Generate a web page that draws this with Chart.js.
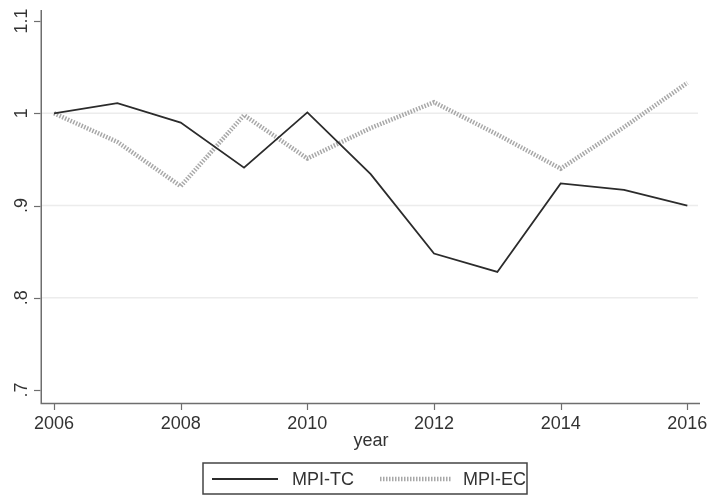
<!DOCTYPE html>
<html>
<head>
<meta charset="utf-8">
<script src="https://cdn.jsdelivr.net/npm/chart.js@4/dist/chart.umd.min.js"></script>
<style>
  html, body { margin: 0; padding: 0; background: #fff; }
  #wrap { width: 707px; height: 495px; }
</style>
</head>
<body>
<div id="wrap"><canvas id="c" width="707" height="495"></canvas></div>
<script>
// Yearly Malmquist productivity components
const years = [2006, 2007, 2008, 2009, 2010, 2011, 2012, 2013, 2014, 2015, 2016];
const mpiTC = [1.000, 1.011, 0.990, 0.941, 1.001, 0.934, 0.848, 0.828, 0.924, 0.917, 0.900];
const mpiEC = [1.000, 0.969, 0.921, 0.998, 0.951, 0.984, 1.012, 0.977, 0.940, 0.985, 1.033];

const yTickValues = [0.7, 0.8, 0.9, 1.0, 1.1];
const yTickLabels = ['.7', '.8', '.9', '1', '1.1'];
const yGridValues = [0.8, 0.9, 1.0];
const xTickValues = [2006, 2008, 2010, 2012, 2014, 2016];
const xTitle = 'year';
const seriesNames = ['MPI-TC', 'MPI-EC'];

const FONT = '"Liberation Sans", Arial, sans-serif';
const TEXT = '#333';
const AXIS = '#6e6e6e';

const toPoints = (vals) => vals.map((v, i) => ({ x: years[i], y: v }));

// White page background and grid lines under the series
const gridUnder = {
  id: 'gridUnder',
  beforeDraw(chart) {
    const ctx = chart.ctx;
    ctx.save();
    ctx.fillStyle = '#fff';
    ctx.fillRect(0, 0, chart.width, chart.height);
    ctx.restore();
  },
  beforeDatasetsDraw(chart) {
    const ctx = chart.ctx;
    const y = chart.scales.y;
    const area = chart.chartArea;
    ctx.save();
    ctx.strokeStyle = '#ececec';
    ctx.lineWidth = 1.5;
    yGridValues.forEach((v) => {
      const py = y.getPixelForValue(v);
      ctx.beginPath();
      ctx.moveTo(area.left, py);
      ctx.lineTo(area.right - 2, py);
      ctx.stroke();
    });
    ctx.restore();
  }
};

// Axes, tick labels, axis title and the boxed legend
const extras = {
  id: 'extras',
  afterDraw(chart) {
    const ctx = chart.ctx;
    const y = chart.scales.y;
    const x = chart.scales.x;
    const area = chart.chartArea;
    ctx.save();

    // axis lines
    ctx.strokeStyle = AXIS;
    ctx.lineWidth = 1.5;
    ctx.beginPath();
    ctx.moveTo(area.left - 0.75, area.top);
    ctx.lineTo(area.left - 0.75, area.bottom + 1.5);
    ctx.lineTo(area.right, area.bottom + 1.5);
    ctx.stroke();

    // tick marks
    ctx.lineWidth = 1.2;
    xTickValues.forEach((v) => {
      const px = Math.round(x.getPixelForValue(v)) + 0.5;
      ctx.beginPath();
      ctx.moveTo(px, area.bottom + 2);
      ctx.lineTo(px, area.bottom + 8);
      ctx.stroke();
    });
    yTickValues.forEach((v) => {
      const py = Math.round(y.getPixelForValue(v)) + 0.5;
      ctx.beginPath();
      ctx.moveTo(area.left - 1.5, py);
      ctx.lineTo(area.left - 8, py);
      ctx.stroke();
    });

    // y tick labels, rotated
    ctx.fillStyle = TEXT;
    ctx.font = '18px ' + FONT;
    ctx.textAlign = 'center';
    ctx.textBaseline = 'middle';
    yTickValues.forEach((v, i) => {
      const py = y.getPixelForValue(v);
      ctx.save();
      ctx.translate(22, py);
      ctx.rotate(-Math.PI / 2);
      ctx.fillText(yTickLabels[i], 0, 0);
      ctx.restore();
    });

    // x tick labels
    ctx.textBaseline = 'top';
    xTickValues.forEach((v) => {
      ctx.fillText(String(v), x.getPixelForValue(v), area.bottom + 13);
    });

    // axis title
    ctx.textBaseline = 'middle';
    ctx.fillText(xTitle, (area.left + area.right) / 2, 441);

    // legend box
    const bx = 203, by = 463, bw = 324, bh = 31;
    ctx.strokeStyle = '#444';
    ctx.lineWidth = 1.5;
    ctx.beginPath();
    ctx.rect(bx, by, bw, bh);
    ctx.stroke();

    const ly = 479;
    const ds = chart.data.datasets;
    const samples = [[212, 278, 292], [380, 452, 463]];
    ds.forEach((d, i) => {
      const [x0, x1, tx] = samples[i];
      ctx.save();
      ctx.strokeStyle = d.borderColor;
      ctx.lineWidth = d.borderWidth;
      ctx.lineCap = 'butt';
      ctx.setLineDash(d.borderDash || []);
      ctx.beginPath();
      ctx.moveTo(x0, ly);
      ctx.lineTo(x1, ly);
      ctx.stroke();
      ctx.restore();
      ctx.textAlign = 'left';
      ctx.fillStyle = TEXT;
      ctx.fillText(d.label, tx, ly + 1);
    });
    ctx.restore();
  }
};

new Chart(document.getElementById('c'), {
  type: 'line',
  data: {
    datasets: [
      {
        label: seriesNames[0],
        data: toPoints(mpiTC),
        borderColor: '#2b2b2b',
        borderWidth: 1.8,
        pointRadius: 0,
        tension: 0,
        fill: false
      },
      {
        label: seriesNames[1],
        data: toPoints(mpiEC),
        borderColor: '#a8a8a8',
        borderWidth: 4.5,
        borderDash: [1.5, 1.5],
        borderCapStyle: 'butt',
        pointRadius: 0,
        tension: 0,
        fill: false
      }
    ]
  },
  options: {
    responsive: false,
    animation: false,
    devicePixelRatio: 1,
    layout: { padding: { left: 42, right: 7, top: 10, bottom: 93 } },
    plugins: { legend: { display: false }, tooltip: { enabled: false } },
    scales: {
      x: { type: 'linear', min: 2005.81, max: 2016.2, display: false },
      y: { type: 'linear', min: 0.687, max: 1.112, display: false }
    }
  },
  plugins: [gridUnder, extras]
});
</script>
</body>
</html>
